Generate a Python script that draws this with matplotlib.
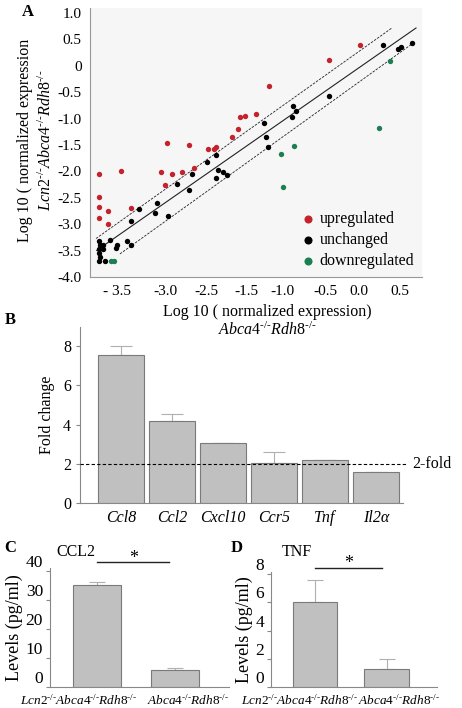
import matplotlib
matplotlib.use('Agg')
import matplotlib.pyplot as plt
import numpy as np

plt.rcParams['font.family'] = ['Liberation Serif', 'DejaVu Serif']
plt.rcParams['mathtext.fontset'] = 'custom'
plt.rcParams['mathtext.rm'] = 'Liberation Serif'
plt.rcParams['mathtext.it'] = 'Liberation Serif:italic'

# ---- panel A data (log10 normalized expression) ----
up_x = [-3.73, -3.42, -2.85, -2.69, -2.55, -2.79, -2.38, -2.76, -2.45, -2.18, -2.10, -2.07, -1.84,
        -1.76, -1.73, -1.66, -1.50, -1.32, -0.47, -0.03, -3.73, -3.73, -3.60, -3.73, -3.60, -3.27]
up_y = [-2.05, -1.99, -2.01, -2.05, -2.01, -2.26, -1.94, -1.46, -1.50, -1.58, -1.58, -1.54, -1.35,
        -1.20, -0.97, -0.95, -0.91, -0.38, 0.11, 0.39, -2.49, -2.67, -2.75, -2.88, -3.00, -2.69]
unch_x = [0.30, 0.51, 0.56, 0.71, -0.47, -0.98, -0.93, -0.99, -1.39, -1.36, -1.33, -2.07, -2.20,
          -2.04, -1.97, -1.91, -2.07, -2.41, -2.62, -2.45, -3.16, -2.90, -2.93, -2.75, -3.27, -3.57,
          -3.33, -3.27, -3.47, -3.49, -3.73, -3.71, -3.67, -3.73, -3.67, -3.73, -3.71, -3.73, -3.64]
unch_y = [0.39, 0.32, 0.36, 0.43, -0.57, -0.76, -0.86, -0.97, -1.08, -1.35, -1.54, -1.69, -1.82,
          -1.97, -2.01, -2.07, -2.13, -2.05, -2.24, -2.35, -2.71, -2.60, -2.79, -2.85, -2.94, -3.30,
          -3.32, -3.39, -3.39, -3.45, -3.32, -3.39, -3.39, -3.47, -3.47, -3.55, -3.62, -3.70, -3.70]
down_x = [0.40, 0.25, -0.96, -1.15, -1.12, -3.56, -3.51]
down_y = [0.09, -1.18, -1.52, -1.67, -2.30, -3.70, -3.70]

# fit lines: (slope, intercept, x start, x end)
fit_mid = (0.93, 0.0, -3.76, 0.77)
fit_hi = (0.95, 0.31, -3.77, 0.43)
fit_lo = (0.96, -0.27, -3.43, 0.76)

a_xtick_pos = [-3.47, -2.79, -2.20, -1.63, -1.12, -0.52, -0.04, 0.54]
a_xtick_lab = ['- 3.5', '-3.0', '-2.5', '-1.5', '-1.0', '-0.5', '0.0', '0.5']
a_ytick_pos = [1.0, 0.5, 0.0, -0.5, -1.0, -1.5, -2.0, -2.5, -3.0, -3.5, -4.0]
a_ytick_lab = ['1.0', '0.5', '0', '-0.5', '-1.0', '-1.5', '-2.0', '-2.5', '-3.0', '-3.5', '-4.0']

# ---- panel B data ----
genes = ['Ccl8', 'Ccl2', 'Cxcl10', 'Ccr5', 'Tnf', 'Il2α']
fold = [7.55, 4.18, 3.06, 2.05, 2.18, 1.58]
fold_err = [0.45, 0.36, 0.0, 0.55, 0.0, 0.0]

# ---- panels C and D ----
groups = [r'$\mathit{Lcn2}^{\text{-/-}}\mathit{Abca4}^{\text{-/-}}\mathit{Rdh8}^{\text{-/-}}$',
          r'$\mathit{Abca4}^{\text{-/-}}\mathit{Rdh8}^{\text{-/-}}$']
ccl2 = [35.0, 5.8]
ccl2_err = [1.3, 0.6]
tnf = [6.05, 1.3]
tnf_err = [1.55, 0.7]

red = '#c4232e'
green = '#1b7f52'
bar_c = '#c0c0c0'
edge_c = '#7a7a7a'

fig = plt.figure(figsize=(4.62, 7.08), dpi=100)

# ================= A =================
ax = fig.add_axes([90/462, 1-277/708, 332/462, 269/708])
ax.set_facecolor('#f6f6f6')
ax.scatter(up_x, up_y, s=15, color=red, lw=0, label='upregulated', zorder=3)
ax.scatter(unch_x, unch_y, s=15, color='black', lw=0, label='unchanged', zorder=3)
ax.scatter(down_x, down_y, s=15, color=green, lw=0, label='downregulated', zorder=3)
for (m, b, x0, x1), ls in [(fit_mid, '-'), (fit_hi, '--'), (fit_lo, '--')]:
    xs = np.array([x0, x1])
    ax.plot(xs, m*xs + b, color='#222222', lw=0.8 if ls == '-' else 0.6, ls=ls,
            dashes=(3, 1.5) if ls == '--' else (None, None), zorder=2)
ax.set_xlim(-3.855, 0.855)
ax.set_ylim(-4.0, 1.095)
ax.set_xticks(a_xtick_pos)
ax.set_xticklabels(a_xtick_lab)
ax.set_yticks(a_ytick_pos)
ax.set_yticklabels(a_ytick_lab)
ax.tick_params(length=0, labelsize=11, pad=6)
ax.tick_params(axis='x', pad=6)
for s in ['top', 'right']:
    ax.spines[s].set_visible(False)
for s in ['left', 'bottom']:
    ax.spines[s].set_color('#999999')
leg = ax.legend(loc='lower right', bbox_to_anchor=(1.0, 0.0), frameon=False, fontsize=11.5,
                handlelength=0.8, handletextpad=0.3, labelspacing=0.32, markerscale=1.5,
                borderpad=0.3, borderaxespad=0.2)
fig.text(267/462, 1-312/708, 'Log 10 ( normalized expression)', ha='center', va='center', fontsize=11.5)
fig.text(267/462, 1-330/708, r'$\mathit{Abca4}^{\text{-/-}}\mathit{Rdh8}^{\text{-/-}}$',
         ha='center', va='center', fontsize=11.5)
fig.text(25/462, 1-140/708, 'Log 10 ( normalized expression', ha='center', va='center',
         rotation=90, fontsize=11.5)
fig.text(46/462, 1-140/708, r'$\mathit{Lcn2}^{\text{-/-}}\mathit{Abca4}^{\text{-/-}}\mathit{Rdh8}^{\text{-/-}}$',
         ha='center', va='center', rotation=90, fontsize=11.5)
fig.text(28/462, 1-12/708, 'A', fontsize=12, fontweight='bold', ha='center', va='center')

# ================= B =================
bx = fig.add_axes([80/462, 1-503/708, 323/462, 176/708])
xb = np.arange(len(genes))
bx.bar(xb, fold, width=0.9, color=bar_c, edgecolor=edge_c, lw=0.8, zorder=2)
bx.errorbar(xb, fold, yerr=[np.zeros(len(fold)), fold_err], fmt='none', ecolor='#b0b0b0',
            elinewidth=0.8, capsize=8, capthick=0.8, zorder=1)
bx.axhline(2, color='black', ls='--', lw=0.8, dashes=(3, 2), zorder=3, clip_on=False,
           xmin=0, xmax=1.01)
bx.text(1.03, 2, '2-fold', transform=bx.get_yaxis_transform(), va='center', ha='left', fontsize=11.5)
bx.set_xlim(-0.8, 5.53)
bx.set_ylim(0, 8.98)
bx.set_yticks([0, 2, 4, 6, 8])
bx.set_xticks(xb)
bx.set_xticklabels(genes, fontstyle='italic')
bx.tick_params(axis='x', length=0, labelsize=11.5, pad=5)
bx.tick_params(axis='y', length=3, labelsize=11.5, color='#888888')
for s in ['top', 'right']:
    bx.spines[s].set_visible(False)
for s in ['left', 'bottom']:
    bx.spines[s].set_color('#888888')
bx.set_ylabel('Fold change', fontsize=11.5, labelpad=6)
fig.text(10/462, 1-320/708, 'B', fontsize=12, fontweight='bold', ha='center', va='center')


def cyto_panel(rect, vals, errs, ylim, yticks, title, sig_y, star_y, label_x, letter, lx):
    cx = fig.add_axes(rect)
    xs = np.arange(2)
    cx.bar(xs, vals, width=0.62, color=bar_c, edgecolor=edge_c, lw=0.8, zorder=2)
    cx.errorbar(xs, vals, yerr=[[0, 0], errs], fmt='none', ecolor='#b0b0b0', elinewidth=0.8,
                capsize=6, capthick=0.8, zorder=1)
    cx.plot([0, 0.93], [sig_y, sig_y], color='#222222', lw=1.0, clip_on=False)
    cx.text(0.47, star_y, '*', ha='center', va='center', fontsize=13)
    cx.set_xlim(-0.61, 1.70)
    cx.set_ylim(0, ylim)
    cx.set_yticks(yticks)
    # group labels sit a little off the bar centres, as in the original figure
    cx.set_xticks(label_x)
    cx.set_xticklabels(groups)
    cx.tick_params(axis='x', length=0, labelsize=9.5, pad=4.5)
    cx.tick_params(axis='y', length=3, labelsize=12.5, pad=2, color='#888888')
    # numbers sit slightly above their ticks, clear of the group labels
    for lab in cx.get_yticklabels():
        lab.set_verticalalignment('bottom')
    for s in ['top', 'right']:
        cx.spines[s].set_visible(False)
    for s in ['left', 'bottom']:
        cx.spines[s].set_color('#888888')
    cx.set_ylabel('Levels (pg/ml)', fontsize=13, labelpad=2)
    fig.text(rect[0] + 26/462, 1-552/708, title, fontsize=11.5, ha='center', va='center')
    fig.text(lx, 1-548/708, letter, fontsize=12, fontweight='bold', ha='center', va='center')
    return cx


cyto_panel([50/462, 1-687/708, 179/462, 119/708], ccl2, ccl2_err, 41, [0, 10, 20, 30, 40],
           'CCL2', 43, 44.2, [-0.245, 1.17], 'C', 10/462)
cyto_panel([271/462, 1-687/708, 166/462, 115/708], tnf, tnf_err, 8.15, [0, 2, 4, 6, 8],
           'TNF', 8.4, 8.75, [-0.21, 1.17], 'D', 237/462)

fig.savefig('out.png', dpi=100)
